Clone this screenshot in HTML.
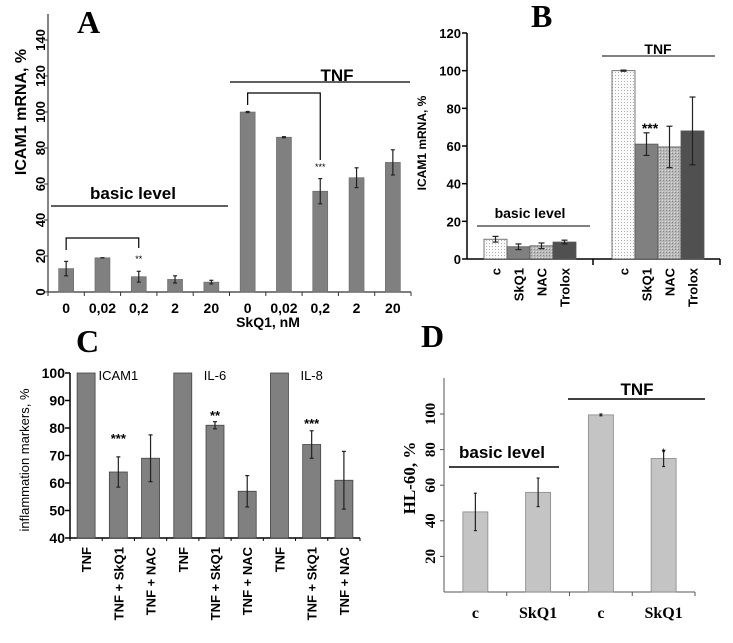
<!DOCTYPE html>
<html><head><meta charset="utf-8"><style>
html,body{margin:0;padding:0;background:#fff;}
svg{display:block;font-family:"Liberation Sans",sans-serif;}
.b{font-weight:bold;}
.serif{font-family:"Liberation Serif",serif;font-weight:bold;}
</style></head><body>
<svg id="fig" width="733" height="643" viewBox="0 0 733 643">
<defs>
<pattern id="dots" width="3" height="3" patternUnits="userSpaceOnUse"><rect width="3" height="3" fill="#fafafa"/><rect width="1" height="1" fill="#b0b0b0"/></pattern>
<pattern id="hatch" width="3" height="3" patternUnits="userSpaceOnUse"><rect width="3" height="3" fill="#b8b8b8"/><rect width="1" height="1" fill="#888"/><rect x="2" y="2" width="1" height="1" fill="#ddd"/></pattern>
</defs>
<g id="pA"></g>
<g id="pB"></g>
<g id="pC"></g>
<g id="pD"></g>
</svg>
<script>
// Panel A data
const aCategories = ["0","0,02","0,2","2","20","0","0,02","0,2","2","20"];
const aValues = [13,19,8.5,7,5.5,100,86,56,63.5,72];
const aErrors = [4,0,3,2,1,0.3,0.3,7,5.5,7];
const aTicks = [0,20,40,60,80,100,120,140];
// Panel B data
const bCategories = ["c","SkQ1","NAC","Trolox","c","SkQ1","NAC","Trolox"];
const bValues = [10.5,6.5,7,9,100,61,59.5,68];
const bErrors = [1.5,1.5,1.5,1,0.3,6,11,18];
const bTicks = [0,20,40,60,80,100,120];
// Panel C data
const cCategories = ["TNF","TNF + SkQ1","TNF + NAC","TNF","TNF + SkQ1","TNF + NAC","TNF","TNF + SkQ1","TNF + NAC"];
const cValues = [100,64,69,100,81,57,100,74,61];
const cErrors = [0,5.5,8.5,0,1.3,5.7,0,5,10.5];
const cTicks = [40,50,60,70,80,90,100];
// Panel D data
const dCategories = ["c","SkQ1","c","SkQ1"];
const dValues = [45,56,99.5,75];
const dErrors = [10.5,8,0.5,4.5];
const dTicks = [20,40,60,80,100];

const NS="http://www.w3.org/2000/svg";
function mk(parent,tag,attrs,text){const e=document.createElementNS(NS,tag);for(const k in attrs)e.setAttribute(k,attrs[k]);if(text!==undefined)e.textContent=text;parent.appendChild(e);return e;}
function line(p,x1,y1,x2,y2,w,c){return mk(p,'line',{x1,y1,x2,y2,stroke:c||'#000','stroke-width':w||1});}
function err(p,x,y1,y2,cap){line(p,x,y1,x,y2,1.2,'#222');line(p,x-cap,y1,x+cap,y1,1.2,'#222');line(p,x-cap,y2,x+cap,y2,1.2,'#222');}

// ---------- A ----------
(function(){
const g=document.getElementById('pA');
const x0=48,x1=411,y0=292,k=1.8,n=aCategories.length,bw=(x1-x0)/n;
const Y=v=>y0-v*k, X=i=>x0+bw*(i+0.5);
line(g,x0,14,x0,y0,1.2,'#333');line(g,x0,y0,x1,y0,1.2,'#333');
aTicks.forEach(t=>{line(g,x0-4,Y(t),x0,Y(t),1,'#333');
 const tl=mk(g,'text',{x:41,y:Y(t),'font-size':13,'font-weight':'bold','text-anchor':'middle',transform:`rotate(-90 41 ${Y(t)})`,dy:4},t);
 });
for(let i=0;i<=n;i++)line(g,x0+bw*i,y0,x0+bw*i,y0+4,1,'#333');
aValues.forEach((v,i)=>{const r=mk(g,'rect',{x:X(i)-7.5,y:Y(v),width:15,height:v*k,fill:'#808080',stroke:'#666','stroke-width':0.6});
 
 err(g,X(i),Y(v+aErrors[i]),Y(Math.max(0,v-aErrors[i])),2);
 const t=mk(g,'text',{x:X(i),y:313,'font-size':14,'font-weight':'bold','text-anchor':'middle'},aCategories[i]);
 });
mk(g,'text',{x:21,y:112,'font-size':16,'font-weight':'bold','text-anchor':'middle',transform:'rotate(-90 21 112)',dy:5,},'ICAM1 mRNA, %');
mk(g,'text',{x:268,y:327,'font-size':14,'font-weight':'bold','text-anchor':'middle',},'SkQ1, nM');
mk(g,'text',{x:77,y:33,'font-size':32,class:'serif',},'A');
mk(g,'text',{x:133,y:199,'font-size':17,'font-weight':'bold','text-anchor':'middle',},'basic level');
line(g,51,206,228,206,1.2);
mk(g,'text',{x:337,y:81,'font-size':17,'font-weight':'bold','text-anchor':'middle',},'TNF');
line(g,230,82,410,82,1.2);
mk(g,'polyline',{points:`${X(0)},250 ${X(0)},238 ${X(2)},238 ${X(2)},248`,fill:'none',stroke:'#000','stroke-width':1.2,});
mk(g,'polyline',{points:`${X(5)},105 ${X(5)},93 ${X(7)},93 ${X(7)},160`,fill:'none',stroke:'#000','stroke-width':1.2,});
mk(g,'text',{x:X(2),y:262,'font-size':9,'text-anchor':'middle'},'**');
mk(g,'text',{x:X(7),y:170,'font-size':9,'text-anchor':'middle'},'***');
})();

// ---------- B ----------
(function(){
const g=document.getElementById('pB');
const x0=467,x1=720,y0=259,k=226/120;
const Y=v=>y0-v*k;
const xs=[484,507,530,553,612,635,658,681],bw=23;
const fills=['url(#dots)','#808080','url(#hatch)','#505050'];
line(g,x0,33,x0,y0,1.5);line(g,x0,y0,x1,y0,1.5);line(g,593,y0,593,y0+6,1.5);line(g,x1,y0,x1,y0+6,1.5);
bTicks.forEach(t=>{line(g,x0-5,Y(t),x0,Y(t),1.5);
 const tl=mk(g,'text',{x:461,y:Y(t)+5,'font-size':13,'font-weight':'bold','text-anchor':'end'},t);
 });
bValues.forEach((v,i)=>{const cx=xs[i]+bw/2;
 const r=mk(g,'rect',{x:xs[i],y:Y(v),width:bw,height:v*k,fill:fills[i%4],stroke:'#555','stroke-width':0.8});
 
 err(g,cx,Y(v+bErrors[i]),Y(v-bErrors[i]),3);
 const t=mk(g,'text',{x:cx,y:268,'font-size':13,'font-weight':'bold','text-anchor':'end',transform:`rotate(-90 ${cx} 268)`,dy:5},bCategories[i]);
 });
mk(g,'text',{x:422,y:143,'font-size':12,'font-weight':'bold','text-anchor':'middle',transform:'rotate(-90 422 143)',dy:4,},'ICAM1 mRNA, %');
mk(g,'text',{x:531,y:27,'font-size':32,class:'serif',},'B');
mk(g,'text',{x:530,y:218,'font-size':14,'font-weight':'bold','text-anchor':'middle',},'basic level');
line(g,477,226,590,226,1);
mk(g,'text',{x:658,y:54,'font-size':14,'font-weight':'bold','text-anchor':'middle',},'TNF');
line(g,602,56,715,56,1);
mk(g,'text',{x:650,y:133,'font-size':14,'font-weight':'bold','text-anchor':'middle'},'***');
})();

// ---------- C ----------
(function(){
const g=document.getElementById('pC');
const x0=70,x1=360,y0=538,k=2.75,n=cCategories.length,bw=(x1-x0)/n;
const Y=v=>y0-(v-40)*k, X=i=>x0+bw*(i+0.5);
line(g,x0,373,x0,y0,1.5);line(g,x0,y0,x1,y0,1.5);
cTicks.forEach(t=>{line(g,x0-5,Y(t),x0,Y(t),1.5);
 const tl=mk(g,'text',{x:65,y:Y(t)+5,'font-size':14,'font-weight':'bold','text-anchor':'end'},t);
 });
for(let i=0;i<=n;i++)line(g,x0+bw*i,y0,x0+bw*i,y0+3,1);
cValues.forEach((v,i)=>{
 const r=mk(g,'rect',{x:X(i)-9,y:Y(v),width:18,height:(v-40)*k,fill:'#808080',stroke:'#444','stroke-width':0.8});
 
 if(cErrors[i]>0)err(g,X(i),Y(v+cErrors[i]),Y(v-cErrors[i]),2);
 const t=mk(g,'text',{x:X(i),y:547,'font-size':13,'font-weight':'bold','text-anchor':'end',transform:`rotate(-90 ${X(i)} 547)`,dy:5},cCategories[i]);
 });
mk(g,'text',{x:25,y:460,'font-size':13,'text-anchor':'middle',transform:'rotate(-90 25 460)',dy:4,},'inflammation markers, %');
mk(g,'text',{x:76,y:352,'font-size':32,class:'serif',},'C');
[['ICAM1',X(1)],['IL-6',X(4)],['IL-8',X(7)]].forEach(([s,x])=>mk(g,'text',{x:x,y:380,'font-size':13,'text-anchor':'middle',},s));
mk(g,'text',{x:X(1),y:443,'font-size':13,'font-weight':'bold','text-anchor':'middle'},'***');
mk(g,'text',{x:X(4),y:420,'font-size':13,'font-weight':'bold','text-anchor':'middle'},'**');
mk(g,'text',{x:X(7),y:428,'font-size':13,'font-weight':'bold','text-anchor':'middle'},'***');
})();

// ---------- D ----------
(function(){
const g=document.getElementById('pD');
const x0=444,x1=695,y0=592,k=1.78,n=dCategories.length,bw=(x1-x0)/n;
const Y=v=>y0-v*k, X=i=>x0+bw*(i+0.5);
line(g,x0,378,x0,y0,1,'#555');line(g,x0,y0,x1,y0,1,'#555');
dTicks.forEach(t=>{line(g,x0-4,Y(t),x0,Y(t),1,'#555');
 const tl=mk(g,'text',{x:430,y:Y(t),'font-size':15,class:'serif','text-anchor':'middle',transform:`rotate(-90 430 ${Y(t)})`,dy:5},t);
 });
for(let i=1;i<=n;i++)line(g,x0+bw*i,y0,x0+bw*i,y0+4,1,'#555');
dValues.forEach((v,i)=>{
 const r=mk(g,'rect',{x:X(i)-12.5,y:Y(v),width:25,height:v*k,fill:'#c4c4c4',stroke:'#888','stroke-width':0.8});
 
 err(g,X(i),Y(v+dErrors[i]),Y(v-dErrors[i]),1.5);
 const t=mk(g,'text',{x:X(i),y:618,'font-size':16,class:'serif','text-anchor':'middle'},dCategories[i]);
 });
mk(g,'text',{x:409,y:478,'font-size':17,class:'serif','text-anchor':'middle',transform:'rotate(-90 409 478)',dy:6,},'HL-60, %');
mk(g,'text',{x:421,y:347,'font-size':32,class:'serif',},'D');
mk(g,'text',{x:502,y:458,'font-size':17,'font-weight':'bold','text-anchor':'middle',},'basic level');
line(g,449,467,559,467,1.5);
mk(g,'text',{x:637,y:395,'font-size':17,'font-weight':'bold','text-anchor':'middle',},'TNF');
line(g,568,399,705,399,1.5);
mk(g,'text',{x:X(3),y:456,'font-size':11,'text-anchor':'middle'},'*');
})();
</script>
</body></html>
